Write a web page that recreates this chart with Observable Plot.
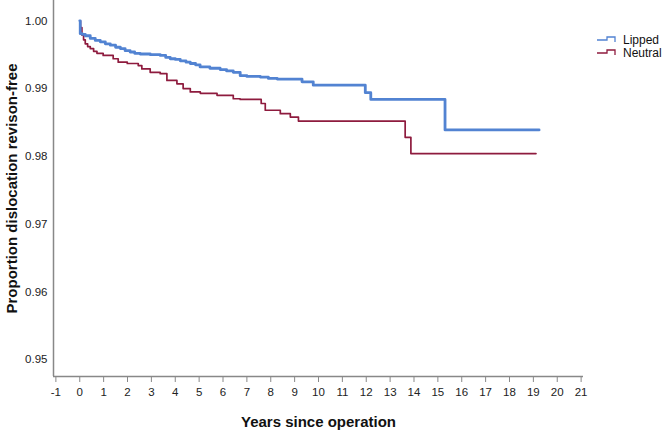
<!DOCTYPE html>
<html>
<head>
<meta charset="utf-8">
<script src="https://cdn.jsdelivr.net/npm/d3@7"></script>
<script src="https://cdn.jsdelivr.net/npm/@observablehq/plot@0.6"></script>
<style>
  html, body { margin: 0; padding: 0; background: #fff; }
  #wrap { position: relative; width: 662px; height: 431px; font-family: "Liberation Sans", Arial, sans-serif; }
  #legend { position: absolute; left: 594px; top: 30px; }
</style>
</head>
<body>
<div id="wrap">
  <div id="chart"></div>
  <svg id="legend" width="68" height="32"></svg>
</div>
<script>
// Kaplan–Meier step data
const lippedYears = [0, 0.02, 0.1, 0.23, 0.44, 0.65, 0.86, 1.07, 1.28, 1.5, 1.7, 1.9, 2.11, 2.3, 2.53, 2.95, 3.37, 3.6, 3.79, 4.0, 4.21, 4.45, 4.63, 4.85, 5.04, 5.45, 5.88, 6.15, 6.43, 6.72, 7.0, 7.56, 7.9, 8.27, 9.31, 9.78, 11.96, 12.19, 15.3, 19.24];
const lippedSurv  = [1.0, 0.9981, 0.998, 0.9978, 0.9974, 0.9971, 0.9969, 0.9966, 0.9964, 0.9961, 0.9959, 0.9956, 0.9954, 0.9952, 0.9951, 0.995, 0.9949, 0.9946, 0.9944, 0.9943, 0.9941, 0.9939, 0.9937, 0.9935, 0.9932, 0.993, 0.9928, 0.9926, 0.9924, 0.9919, 0.9918, 0.9917, 0.9915, 0.9914, 0.991, 0.9905, 0.9894, 0.9884, 0.9839, 0.9839];

const neutralYears = [0, 0.03, 0.09, 0.16, 0.23, 0.33, 0.44, 0.58, 0.72, 0.98, 1.4, 1.61, 1.99, 2.45, 2.6, 2.95, 3.37, 3.65, 4.07, 4.33, 4.63, 5.05, 5.75, 6.43, 6.72, 7.6, 7.77, 8.4, 8.82, 9.16, 13.63, 13.87, 19.11];
const neutralSurv  = [1.0, 0.9990, 0.9979, 0.9972, 0.9966, 0.9962, 0.9959, 0.9955, 0.9952, 0.9949, 0.9944, 0.9939, 0.9937, 0.9934, 0.9929, 0.9924, 0.9922, 0.9912, 0.9907, 0.99, 0.9895, 0.9893, 0.989, 0.9885, 0.9884, 0.9878, 0.9868, 0.9863, 0.9858, 0.9852, 0.9828, 0.9804, 0.9804];

const groups = ["Lipped", "Neutral"];
const groupColors = ["#5283d2", "#8e1b3e"];
const groupWidths = [2.8, 1.7];

const xTicks = d3.range(-1, 22);
const yTicks = [0.95, 0.96, 0.97, 0.98, 0.99, 1.00];
const xDomain = [-1.1, 21.1];
const yDomain = [0.9475, 1.003];

const lipped = lippedYears.map((t, i) => ({group: "Lipped", t, s: lippedSurv[i]}));
const neutral = neutralYears.map((t, i) => ({group: "Neutral", t, s: neutralSurv[i]}));

const chart = Plot.plot({
  width: 662,
  height: 431,
  marginLeft: 53,
  marginRight: 79,
  marginTop: 0,
  marginBottom: 55,
  style: {fontFamily: "'Liberation Sans', Arial, sans-serif", fontSize: "11px", color: "#222", background: "#fff"},
  x: {domain: xDomain, ticks: xTicks, label: null},
  y: {domain: yDomain, ticks: yTicks, label: null},
  marks: [
    Plot.axisX({ticks: xTicks, tickSize: 6, tickPadding: 5, stroke: "#888", tickFormat: d => String(d), fill: "#222", fontSize: 11.5}),
    Plot.axisY({ticks: yTicks, tickSize: 0, tickPadding: 6, tickFormat: d3.format(".2f"), fill: "#222", fontSize: 11.5}),
    Plot.ruleX([xDomain[0]], {stroke: "#888", strokeWidth: 1.5}),
    Plot.ruleY([yDomain[0]], {stroke: "#888", strokeWidth: 1.5}),
    Plot.line(neutral, {x: "t", y: "s", curve: "step-after", stroke: groupColors[1], strokeWidth: groupWidths[1]}),
    Plot.line(lipped, {x: "t", y: "s", curve: "step-after", stroke: groupColors[0], strokeWidth: groupWidths[0]}),
    Plot.text(["Years since operation"], {frameAnchor: "bottom", dy: 50, fontSize: 15, fontWeight: "bold", fill: "#111"}),
    Plot.text(["Proportion dislocation revison-free"], {frameAnchor: "left", textAnchor: "middle", dx: -41, dy: 0, rotate: -90, fontSize: 15, fontWeight: "bold", fill: "#111"})
  ]
});
document.getElementById("chart").appendChild(chart);

// legend with step-shaped symbols
const leg = d3.select("#legend");
groups.forEach((g, i) => {
  const y0 = 10 + i * 13;
  leg.append("path")
    .attr("d", `M3,${y0} H13 V${y0 - 3} H21 V${y0 + 2}`)
    .attr("fill", "none")
    .attr("stroke", groupColors[i])
    .attr("stroke-width", 1.3);
  leg.append("text")
    .attr("x", 29).attr("y", y0 + 4)
    .attr("font-size", 12)
    .attr("font-family", "'Liberation Sans', Arial, sans-serif")
    .attr("fill", "#111")
    .text(g);
});
</script>
</body>
</html>
